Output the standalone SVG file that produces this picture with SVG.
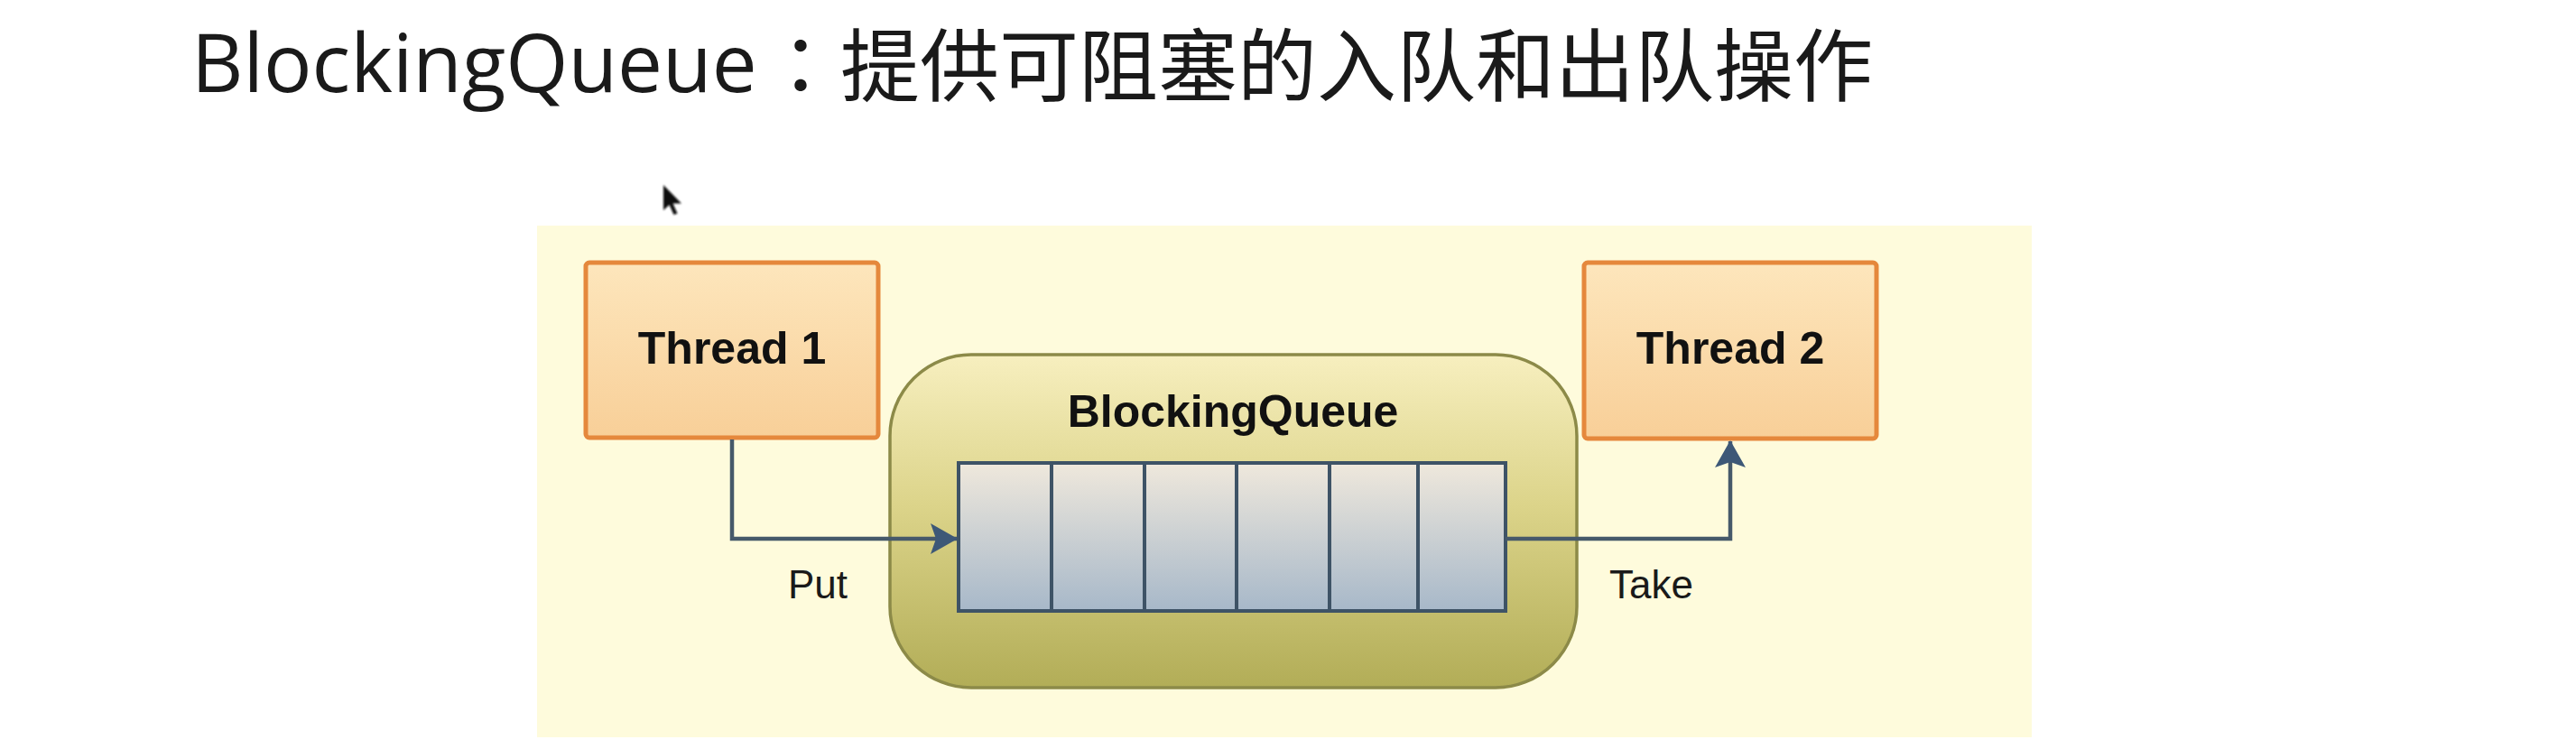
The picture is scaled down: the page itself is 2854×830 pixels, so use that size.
<svg xmlns="http://www.w3.org/2000/svg" width="2854" height="830" viewBox="0 0 2854 830">
<style>
.title{font-family:"Noto Sans CJK SC","Noto Sans CJK JP",sans-serif;font-size:88px;fill:#1a1a1a}
.title-latin{font-family:"Open Sans","Noto Sans",sans-serif;font-size:89px}
.bold{font-family:"Liberation Sans",Arial,sans-serif;font-weight:bold;font-size:50px;fill:#111;text-anchor:middle}
.lbl{font-family:"Liberation Sans",Arial,sans-serif;font-size:44px;fill:#1a1a1a}
.thread{fill:url(#gThread);stroke:#e5883c;stroke-width:5}
.cell{fill:url(#gCell);stroke:#3e5366;stroke-width:4}
.conn{fill:none;stroke:#46596a;stroke-width:4.5}
</style>
<defs>
<linearGradient id="gThread" x1="0" y1="0" x2="0" y2="1">
<stop offset="0" stop-color="#fde6bc"/><stop offset="1" stop-color="#f8cf98"/>
</linearGradient>
<linearGradient id="gQueue" x1="0" y1="0" x2="0" y2="1">
<stop offset="0" stop-color="#f7efbf"/><stop offset="0.45" stop-color="#dcd48a"/><stop offset="1" stop-color="#b2ad57"/>
</linearGradient>
<linearGradient id="gCell" x1="0" y1="0" x2="0" y2="1">
<stop offset="0" stop-color="#efe8dc"/><stop offset="1" stop-color="#a7b8c9"/>
</linearGradient>
<marker id="arr" viewBox="0 0 30 34" refX="29" refY="17" markerWidth="30" markerHeight="34" markerUnits="userSpaceOnUse" orient="auto">
<path d="M0,0 L30,17 L0,34 L6,17 Z" fill="#3d5877"/>
</marker>
<filter id="blur" x="-50%" y="-50%" width="200%" height="200%"><feGaussianBlur stdDeviation="1.2"/></filter>
</defs>
<rect width="2854" height="830" fill="#ffffff"/>
<g id="title">
<text class="title" y="105"><tspan class="title-latin" x="212" y="102">BlockingQueue</tspan><tspan x="843" y="105" style="font-family:'Noto Sans CJK JP','Noto Sans CJK SC',sans-serif">：</tspan><tspan>提供可阻塞的入队和出队操作</tspan></text>
</g>
<g id="cursor">
<path d="M735,205 L735,233 L741.5,227 L746.5,238 L750.5,236.5 L745.5,225.5 L755,225.5 Z" fill="#111" filter="url(#blur)"/>
</g>
<g id="panel">
<rect x="595" y="250" width="1656" height="567" fill="#fefbdc"/>
</g>
<g id="blockingqueue">
<rect x="986" y="393" width="761" height="369" rx="90" ry="90" fill="url(#gQueue)" stroke="#8c8a48" stroke-width="3.5"/>
<text class="bold" x="1366" y="473">BlockingQueue</text>
<rect class="cell" x="1062" y="513" width="103" height="164"/>
<rect class="cell" x="1165" y="513" width="103" height="164"/>
<rect class="cell" x="1268" y="513" width="102" height="164"/>
<rect class="cell" x="1370" y="513" width="103" height="164"/>
<rect class="cell" x="1473" y="513" width="98" height="164"/>
<rect class="cell" x="1571" y="513" width="97" height="164"/>
</g>
<g id="thread1">
<rect class="thread" x="649" y="291" width="324" height="194" rx="4"/>
<text class="bold" x="811" y="403">Thread 1</text>
</g>
<g id="thread2">
<rect class="thread" x="1755" y="291" width="324" height="195" rx="4"/>
<text class="bold" x="1917" y="403">Thread 2</text>
</g>
<g id="connectors">
<path class="conn" d="M811,487 L811,597 L1060,597" marker-end="url(#arr)"/>
<text class="lbl" x="873" y="663">Put</text>
<path class="conn" d="M1668,597 L1917,597 L1917,489" marker-end="url(#arr)"/>
<text class="lbl" x="1783" y="663">Take</text>
</g>
</svg>
